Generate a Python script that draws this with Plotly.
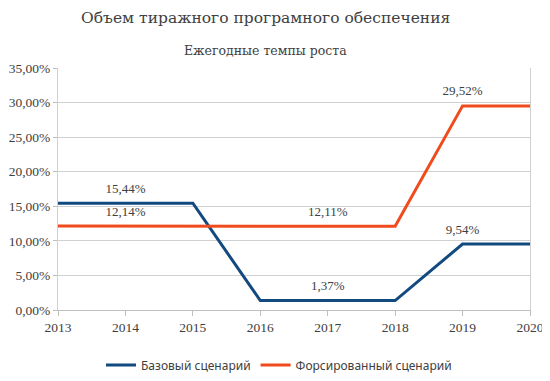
import plotly.graph_objects as go

years = [2013, 2014, 2015, 2016, 2017, 2018, 2019, 2020]
base = [15.44, 15.44, 15.44, 1.37, 1.37, 1.37, 9.54, 9.54]
forced = [12.14, 12.14, 12.14, 12.11, 12.11, 12.11, 29.52, 29.52]
label_years = [2014, 2017, 2019]
y_ticks = [0, 5, 10, 15, 20, 25, 30, 35]

def pct(v):
    return f"{v:.2f}%".replace(".", ",")

def labels(vals):
    return [pct(v) if y in label_years else "" for y, v in zip(years, vals)]

serif = "Liberation Serif"
title_font = "DejaVu Serif"
txt = "#404040"

fig = go.Figure()
for name, vals, color in [("Базовый сценарий", base, "#124A80"),
                          ("Форсированный сценарий", forced, "#F04B1D")]:
    fig.add_trace(go.Scatter(x=years, y=vals, mode="lines+markers+text", name=name,
                             line=dict(color=color, width=3),
                             marker=dict(size=10, color="rgba(0,0,0,0)",
                                         line=dict(width=0, color="rgba(0,0,0,0)")),
                             text=labels(vals), textposition="top center",
                             textfont=dict(family=serif, size=13, color=txt),
                             cliponaxis=False))

fig.update_layout(
    width=542, height=373,
    margin=dict(l=50, r=20, t=60, b=71, autoexpand=False),
    paper_bgcolor="white", plot_bgcolor="white",
    font=dict(family=serif, size=13, color=txt),
    showlegend=True,
    legend=dict(orientation="h", x=0.5, xref="container", xanchor="center",
                y=0.043, yref="container", yanchor="middle",
                font=dict(family="Noto Sans", size=12, color=txt)),
)
fig.add_annotation(text="Объем тиражного програмного обеспечения", xref="paper", yref="paper",
                   x=0.44, y=1.207, yanchor="middle", showarrow=False,
                   font=dict(family=title_font, size=15.5, color=txt))
fig.add_annotation(text="Ежегодные темпы роста", xref="paper", yref="paper",
                   x=0.44, y=1.074, yanchor="middle", showarrow=False,
                   font=dict(family=title_font, size=12.5, color=txt))

fig.update_xaxes(range=[2013, 2020], tickvals=years, ticks="outside", ticklen=5,
                 tickcolor="#bfbfbf", showline=True, linecolor="#bfbfbf", showgrid=False,
                 zeroline=False, automargin=False, tickfont=dict(family=serif, size=13.5, color=txt))
fig.update_yaxes(range=[0, 35], tickvals=y_ticks, ticktext=[pct(v) for v in y_ticks],
                 ticks="outside", ticklen=4, tickcolor="#bfbfbf", showline=True, mirror=True,
                 linecolor="#d0d0d0", gridcolor="#d0d0d0", zeroline=False, automargin=False,
                 tickfont=dict(family=serif, size=13.5, color=txt))

fig.write_html("out.html")
